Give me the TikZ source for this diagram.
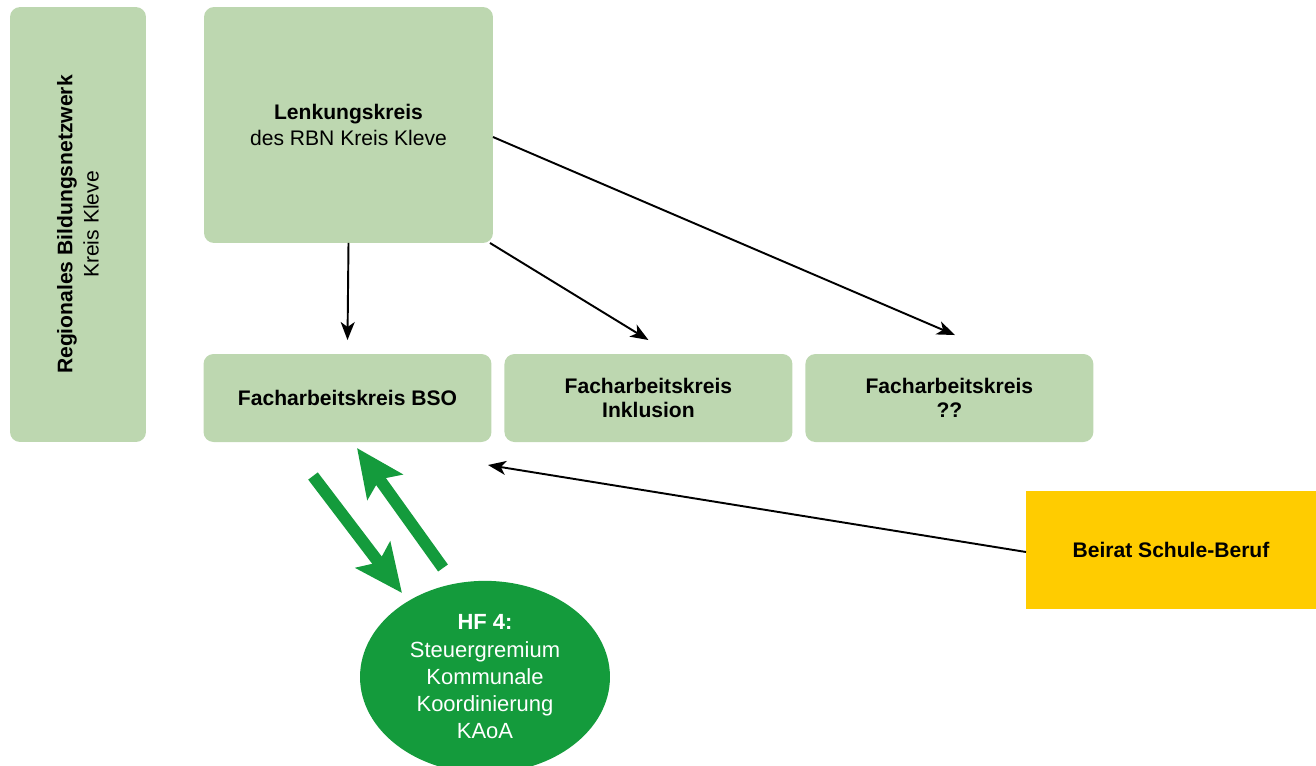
\documentclass[tikz,border=0pt]{standalone}
\usepackage{fontspec}
\setmainfont{Liberation Sans}
\usetikzlibrary{positioning, arrows.meta, shapes.geometric}

\definecolor{rbngreen}{HTML}{BDD7B0}
\definecolor{kaoagreen}{HTML}{149B3C}
\definecolor{beiratyellow}{HTML}{FFCC00}

\tikzset{
  every node/.style={outer sep=0pt},
  gremium/.style={fill=rbngreen, rounded corners=0.2cm, align=center, font=\fontsize{12}{15}\selectfont},
  fak/.style={gremium, minimum width=5.76cm, minimum height=1.76cm, font=\fontsize{12}{14}\selectfont\bfseries},
  pfeil/.style={-{Stealth[length=0.36cm, width=0.28cm, inset=0.1cm]}, line width=1.1pt},
  dickpfeil/.style={kaoagreen, line width=0.24cm, -{Stealth[length=0.95cm, width=0.85cm, inset=0.18cm]}}
}

\begin{document}
\begin{tikzpicture}[x=0.02cm, y=-0.02cm]
\useasboundingbox (0,0) rectangle (1316,765);

% Rahmen links
\node[gremium, minimum width=2.72cm, minimum height=8.7cm] (rbn) at (78,224.5) {};
\node[rotate=90, align=center, font=\fontsize{12}{15}\selectfont] at (rbn.center) {\textbf{Regionales Bildungsnetzwerk}\\Kreis Kleve};

% Lenkungskreis
\node[gremium, minimum width=5.78cm, minimum height=4.72cm] (lenk) at (348.5,125) {\textbf{Lenkungskreis}\\des RBN Kreis Kleve};

% Facharbeitskreise
\node[fak] (bso) at (347.5,398) {Facharbeitskreis BSO};
\node[fak, right=0.26cm of bso] (ink) {Facharbeitskreis\\Inklusion};
\node[fak, right=0.26cm of ink] (fq) {Facharbeitskreis\\??};

% Beirat
\node[fill=beiratyellow, minimum width=5.8cm, minimum height=2.36cm, font=\fontsize{12}{15}\selectfont\bfseries] (beirat) at (1171,550) {Beirat Schule-Beruf};

% HF 4
\node[ellipse, fill=kaoagreen, text=white, minimum width=5cm, minimum height=3.6cm, align=center, font=\fontsize{12.5}{15.5}\selectfont] (hf) at (485,677) {\textbf{HF 4:}\\Steuergremium\\Kommunale\\Koordinierung\\KAoA};

% Verbindungen
\draw[pfeil] (lenk.south) -- ([yshift=0.28cm]bso.north);
\draw[pfeil] ([xshift=-0.06cm]lenk.south east) -- ([yshift=0.28cm]ink.north);
\draw[pfeil] ([yshift=-0.24cm]lenk.east) -- ([xshift=0.11cm, yshift=0.38cm]fq.north);

\coordinate (bsoin) at (488,465);
\draw[pfeil] ([yshift=-0.04cm]beirat.west) -- (bsoin);

% Austausch BSO - HF 4
\coordinate (ab1) at (313,476);
\coordinate (ab2) at (402,593);
\coordinate (auf1) at (443,568);
\coordinate (auf2) at (357,448);
\draw[dickpfeil] (ab1) -- (ab2);
\draw[dickpfeil] (auf1) -- (auf2);
\end{tikzpicture}
\end{document}
